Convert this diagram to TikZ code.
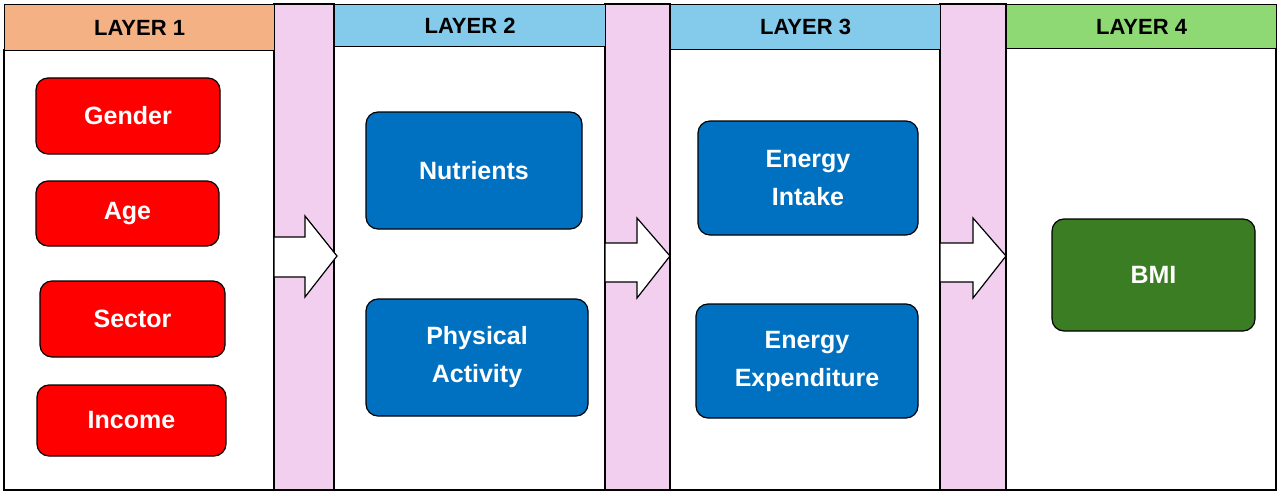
\documentclass[tikz,border=0pt]{standalone}
\usepackage{fontspec}
\setmainfont{Liberation Sans}
\begin{document}
\begin{tikzpicture}[x=1pt,y=-1pt,
  hdr/.style={draw=black,line width=1.2pt,font=\bfseries\fontsize{22}{24}\selectfont},
  body/.style={draw=black,line width=1.2pt,fill=white},
  strip/.style={draw=black,line width=1.2pt,fill=pinkc},
  box/.style={draw=black,line width=1.2pt,rounded corners=12pt,text=white,align=center,font=\bfseries\fontsize{25}{38}\selectfont},
  arr/.style={draw=black,line width=1.2pt,fill=white}]
\definecolor{orangec}{HTML}{F4B183}
\definecolor{bluec}{HTML}{83CAEB}
\definecolor{greenc}{HTML}{8ED973}
\definecolor{pinkc}{HTML}{F2CFEE}
\definecolor{redc}{HTML}{FF0000}
\definecolor{boxblue}{HTML}{0070C0}
\definecolor{boxgreen}{HTML}{3A7D22}
\useasboundingbox (0,0) rectangle (1280,495);
\fill[white] (0,0) rectangle (1280,495);
% strips
\draw[strip] (274,4) rectangle (334,490);
\draw[strip] (605,4) rectangle (670,490);
\draw[strip] (940,4) rectangle (1006,490);
% columns
\draw[body] (4,50) rectangle (274,490);
\node[hdr,fill=orangec,minimum width=270pt,minimum height=46pt,anchor=north west] (h1) at (4,4) {LAYER 1};
\draw[body] (334,46) rectangle (605,490);
\node[hdr,fill=bluec,minimum width=271pt,minimum height=42pt,anchor=north west] (h2) at (334,4) {LAYER 2};
\draw[body] (670,49) rectangle (940,490);
\node[hdr,fill=bluec,minimum width=270pt,minimum height=45pt,anchor=north west] (h3) at (670,4) {LAYER 3};
\draw[body] (1006,48) rectangle (1276,490);
\node[hdr,fill=greenc,minimum width=270pt,minimum height=44pt,anchor=north west] (h4) at (1006,4) {LAYER 4};
% arrows
\draw[arr] (274,237) -- (305,237) -- (305,216) -- (337,256) -- (305,297) -- (305,277) -- (274,277) -- cycle;
\draw[arr] (605,243) -- (637,243) -- (637,218) -- (670,256) -- (637,298) -- (637,282) -- (605,282) -- cycle;
\draw[arr] (940,243) -- (973,243) -- (973,218) -- (1006,256) -- (973,298) -- (973,282) -- (940,282) -- cycle;
% boxes
\node[box,fill=redc,minimum width=184pt,minimum height=76pt] (gender) at (128,116) {Gender};
\node[box,fill=redc,minimum width=183pt,minimum height=65pt] (age) at (127.5,213.5) {Age};
\node[box,fill=redc,minimum width=185pt,minimum height=76pt] (sector) at (132.5,319) {Sector};
\node[box,fill=redc,minimum width=189pt,minimum height=71pt] (income) at (131.5,420.5) {Income};
\node[box,fill=boxblue,minimum width=216pt,minimum height=117pt] (nutr) at (474,170.5) {Nutrients};
\node[box,fill=boxblue,minimum width=222pt,minimum height=117pt] (pa) at (477,357.5) {Physical\\Activity};
\node[box,fill=boxblue,minimum width=220pt,minimum height=114pt] (ei) at (808,178) {Energy\\Intake};
\node[box,fill=boxblue,minimum width=222pt,minimum height=114pt] (ee) at (807,361) {Energy\\Expenditure};
\node[box,fill=boxgreen,minimum width=203pt,minimum height=112pt] (bmi) at (1153.5,275) {BMI};
\end{tikzpicture}
\end{document}
